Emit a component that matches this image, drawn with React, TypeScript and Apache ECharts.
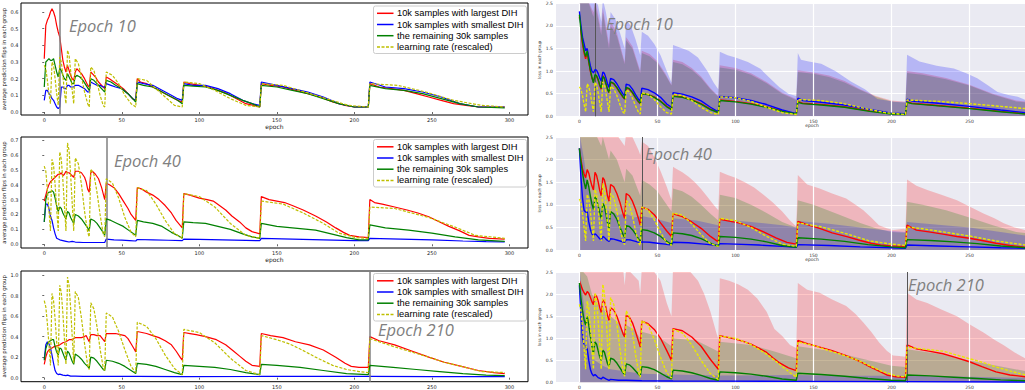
import { useEffect, useRef } from 'react';
import * as echarts from 'echarts';

type Pt = [number, number];

// ---- axis ticks and labels ----
const EPOCH_TICKS = [0, 50, 100, 150, 200, 250, 300];
const FLIP_TICKS_10 = [0, 0.1, 0.2, 0.3, 0.4, 0.5, 0.6];
const FLIP_TICKS_40 = [0, 0.1, 0.2, 0.3, 0.4, 0.5, 0.6, 0.7];
const FLIP_TICKS_210 = [0, 0.2, 0.4, 0.6, 0.8, 1.0];
const LEGEND_LABELS = [
  '10k samples with largest DIH',
  '10k samples with smallest DIH',
  'the remaining 30k samples',
  'learning rate (rescaled)',
];
const MARK_EPOCHS = [10, 40, 210];
const MARK_TEXTS = ['Epoch 10', 'Epoch 40', 'Epoch 210'];

// ---- average prediction flips, groups chosen at epoch 10 ----
const flips10Largest: Pt[] = [[0,0.32],[1,0.52],[2,0.55],[3,0.57],[4,0.6],[5,0.62],[6,0.6],[7,0.57],[8,0.52],[9,0.48],[10,0.45],[11,0.38],[12,0.31],[13,0.27],[14,0.24],[15,0.28],[16,0.25],[17,0.22],[18,0.2],[19,0.19],[20,0.24],[21,0.26],[22,0.25],[24,0.23],[26,0.2],[28,0.16],[29,0.15],[30,0.24],[31,0.23],[33,0.21],[35,0.18],[37,0.16],[39,0.14],[40,0.21],[42,0.2],[45,0.18],[48,0.16],[51,0.14],[54,0.11],[57,0.08],[59,0.07],[60,0.2],[62,0.18],[66,0.17],[70,0.15],[74,0.13],[78,0.11],[82,0.09],[86,0.07],[89,0.06],[90,0.18],[94,0.17],[100,0.16],[106,0.15],[112,0.13],[118,0.11],[124,0.08],[130,0.05],[135,0.04],[139,0.03],[140,0.17],[146,0.16],[154,0.15],[162,0.13],[170,0.11],[178,0.09],[186,0.06],[194,0.04],[200,0.03],[209,0.03],[210,0.17],[216,0.15],[224,0.14],[232,0.13],[240,0.11],[248,0.09],[256,0.07],[264,0.05],[272,0.04],[280,0.03],[290,0.03],[297,0.03]];
const flips10Smallest: Pt[] = [[0,0.07],[1,0.13],[2,0.13],[3,0.11],[4,0.1],[5,0.08],[6,0.07],[7,0.05],[8,0.03],[9,0.02],[10,0.03],[11,0.15],[12,0.15],[13,0.14],[14,0.14],[15,0.16],[16,0.16],[17,0.15],[18,0.15],[19,0.15],[20,0.16],[22,0.16],[24,0.15],[26,0.14],[28,0.12],[29,0.12],[30,0.18],[32,0.17],[34,0.16],[36,0.16],[38,0.15],[39,0.15],[40,0.17],[43,0.16],[46,0.15],[50,0.14],[54,0.11],[57,0.08],[59,0.07],[60,0.18],[64,0.17],[70,0.16],[76,0.13],[82,0.1],[86,0.08],[89,0.07],[90,0.17],[96,0.16],[104,0.16],[112,0.14],[120,0.11],[128,0.07],[134,0.05],[139,0.04],[140,0.18],[150,0.16],[160,0.14],[170,0.12],[180,0.09],[190,0.05],[200,0.03],[209,0.03],[210,0.18],[220,0.15],[232,0.14],[244,0.12],[256,0.09],[268,0.05],[280,0.03],[297,0.03]];
const flips10Rest: Pt[] = [[0,0.15],[1,0.3],[2,0.31],[3,0.32],[4,0.31],[5,0.31],[6,0.32],[7,0.28],[8,0.24],[9,0.21],[10,0.26],[11,0.25],[12,0.22],[13,0.2],[14,0.19],[15,0.23],[16,0.21],[17,0.19],[18,0.17],[19,0.17],[20,0.21],[21,0.22],[23,0.21],[25,0.19],[27,0.16],[29,0.13],[30,0.2],[32,0.19],[34,0.17],[36,0.15],[38,0.13],[39,0.12],[40,0.19],[43,0.18],[46,0.16],[50,0.14],[54,0.11],[57,0.08],[59,0.06],[60,0.17],[64,0.16],[70,0.15],[76,0.12],[82,0.09],[86,0.07],[89,0.05],[90,0.16],[96,0.155],[104,0.15],[112,0.13],[120,0.1],[128,0.07],[134,0.05],[139,0.03],[140,0.16],[150,0.15],[160,0.13],[170,0.11],[180,0.08],[190,0.05],[200,0.03],[209,0.03],[210,0.16],[220,0.14],[232,0.13],[244,0.11],[256,0.08],[268,0.05],[280,0.03],[297,0.025]];
const flips10Lr: Pt[] = [[0,0.28],[1,0.26],[2,0.19],[3,0.11],[4,0.05],[5,0.3],[6,0.28],[7,0.2],[8,0.11],[9,0.04],[10,0.33],[11,0.3],[12,0.22],[13,0.12],[14,0.05],[15,0.37],[16,0.34],[17,0.25],[18,0.13],[19,0.05],[20,0.32],[22,0.29],[24,0.21],[26,0.12],[28,0.05],[29,0.03],[30,0.27],[32,0.25],[34,0.18],[36,0.1],[38,0.04],[39,0.03],[40,0.24],[44,0.22],[48,0.17],[52,0.1],[56,0.05],[59,0.03],[60,0.2],[66,0.19],[72,0.14],[78,0.09],[84,0.04],[89,0.03],[90,0.18],[100,0.17],[110,0.13],[120,0.08],[130,0.04],[139,0.03],[140,0.17],[154,0.16],[168,0.12],[182,0.08],[196,0.04],[209,0.03],[210,0.17],[228,0.16],[246,0.12],[264,0.07],[282,0.04],[297,0.03]];

// ---- average prediction flips, groups chosen at epoch 40 ----
const flips40Largest: Pt[] = [[0,0.29],[1,0.33],[2,0.37],[3,0.4],[4,0.42],[5,0.43],[6,0.44],[7,0.45],[8,0.46],[9,0.47],[10,0.47],[11,0.48],[12,0.46],[13,0.47],[14,0.49],[15,0.48],[16,0.48],[17,0.47],[18,0.46],[19,0.45],[20,0.49],[21,0.49],[22,0.49],[24,0.48],[26,0.45],[27,0.42],[28,0.37],[29,0.35],[30,0.48],[31,0.49],[33,0.47],[35,0.44],[37,0.38],[39,0.3],[40,0.41],[42,0.4],[45,0.38],[48,0.34],[51,0.29],[54,0.24],[56,0.2],[59,0.16],[60,0.38],[63,0.37],[66,0.35],[70,0.33],[74,0.3],[78,0.26],[82,0.21],[85,0.16],[89,0.11],[90,0.34],[94,0.33],[100,0.31],[105,0.3],[109,0.29],[113,0.26],[117,0.23],[121,0.19],[126,0.15],[130,0.11],[134,0.085],[139,0.07],[140,0.32],[145,0.3],[150,0.29],[155,0.28],[160,0.26],[167,0.23],[175,0.19],[182,0.15],[188,0.11],[193,0.08],[197,0.06],[203,0.05],[209,0.045],[210,0.3],[213,0.28],[218,0.27],[226,0.25],[234,0.23],[241,0.21],[248,0.185],[255,0.15],[261,0.12],[268,0.09],[274,0.06],[280,0.05],[287,0.04],[297,0.035]];
const flips40Smallest: Pt[] = [[0,0.15],[1,0.27],[2,0.27],[3,0.24],[4,0.19],[5,0.16],[6,0.11],[7,0.07],[8,0.04],[9,0.035],[10,0.03],[12,0.025],[14,0.02],[16,0.015],[18,0.02],[20,0.015],[25,0.012],[30,0.012],[35,0.012],[39,0.012],[40,0.035],[45,0.03],[50,0.028],[55,0.025],[59,0.022],[60,0.032],[70,0.03],[80,0.027],[89,0.024],[90,0.035],[100,0.033],[115,0.03],[130,0.026],[139,0.024],[140,0.04],[160,0.035],[180,0.03],[200,0.025],[209,0.024],[210,0.04],[230,0.035],[250,0.03],[270,0.022],[285,0.018],[297,0.016]];
const flips40Rest: Pt[] = [[0,0.15],[1,0.3],[2,0.34],[3,0.35],[4,0.35],[5,0.36],[6,0.35],[7,0.31],[8,0.26],[9,0.22],[10,0.25],[11,0.24],[12,0.21],[13,0.19],[14,0.17],[15,0.22],[16,0.21],[17,0.18],[18,0.16],[19,0.14],[20,0.2],[22,0.19],[24,0.17],[26,0.14],[28,0.11],[29,0.09],[30,0.17],[32,0.16],[34,0.14],[36,0.11],[38,0.08],[39,0.06],[40,0.17],[43,0.16],[47,0.14],[51,0.12],[55,0.09],[59,0.06],[60,0.16],[64,0.15],[70,0.14],[76,0.12],[82,0.08],[86,0.06],[89,0.04],[90,0.15],[96,0.145],[104,0.14],[112,0.12],[120,0.1],[128,0.07],[134,0.05],[139,0.04],[140,0.14],[150,0.12],[160,0.11],[175,0.095],[185,0.07],[195,0.045],[203,0.03],[209,0.03],[210,0.13],[220,0.11],[235,0.095],[250,0.075],[265,0.05],[280,0.03],[297,0.02]];
const flips40Lr: Pt[] = [[0,0.525],[1,0.49],[2,0.37],[3,0.23],[4,0.09],[5,0.57],[6,0.53],[7,0.4],[8,0.24],[9,0.09],[10,0.62],[11,0.57],[12,0.43],[13,0.26],[14,0.09],[15,0.68],[16,0.63],[17,0.47],[18,0.28],[19,0.09],[20,0.58],[22,0.54],[24,0.4],[26,0.22],[28,0.08],[29,0.05],[30,0.505],[32,0.47],[34,0.35],[36,0.2],[38,0.07],[39,0.05],[40,0.44],[44,0.41],[48,0.31],[52,0.18],[56,0.08],[59,0.05],[60,0.38],[66,0.36],[72,0.27],[78,0.16],[84,0.07],[89,0.04],[90,0.34],[100,0.32],[110,0.25],[120,0.14],[130,0.06],[139,0.04],[140,0.29],[154,0.27],[167,0.21],[180,0.14],[190,0.075],[201,0.045],[209,0.04],[210,0.25],[226,0.24],[248,0.18],[265,0.115],[278,0.06],[297,0.04]];

// ---- average prediction flips, groups chosen at epoch 210 ----
const flips210Largest: Pt[] = [[0,0.13],[1,0.2],[2,0.25],[3,0.27],[4,0.28],[5,0.29],[6,0.3],[8,0.31],[10,0.32],[12,0.34],[14,0.35],[16,0.37],[18,0.37],[20,0.39],[22,0.39],[24,0.39],[26,0.4],[27,0.41],[28,0.38],[29,0.35],[30,0.42],[32,0.42],[34,0.41],[36,0.41],[38,0.37],[39,0.35],[40,0.43],[43,0.43],[46,0.43],[49,0.42],[52,0.41],[54,0.38],[56,0.33],[58,0.28],[59,0.25],[60,0.45],[63,0.44],[66,0.43],[70,0.41],[74,0.39],[78,0.36],[82,0.32],[85,0.26],[88,0.19],[89,0.17],[90,0.44],[94,0.43],[98,0.42],[104,0.4],[111,0.37],[117,0.32],[122,0.26],[126,0.21],[130,0.16],[134,0.12],[139,0.11],[140,0.43],[146,0.41],[154,0.39],[162,0.35],[171,0.32],[180,0.27],[188,0.2],[194,0.14],[198,0.11],[203,0.1],[209,0.1],[210,0.4],[216,0.36],[226,0.32],[237,0.26],[248,0.2],[258,0.15],[269,0.11],[280,0.07],[290,0.05],[297,0.04]];
const flips210Smallest: Pt[] = [[0,0.18],[1,0.32],[2,0.35],[3,0.33],[4,0.29],[5,0.22],[6,0.14],[7,0.07],[8,0.04],[9,0.03],[10,0.035],[12,0.025],[14,0.02],[15,0.025],[17,0.015],[20,0.015],[25,0.012],[30,0.012],[40,0.012],[60,0.012],[90,0.01],[140,0.012],[210,0.012],[250,0.01],[297,0.01]];
const flips210Rest: Pt[] = [[0,0.17],[1,0.28],[2,0.33],[3,0.35],[4,0.36],[5,0.37],[6,0.37],[7,0.3],[8,0.25],[9,0.22],[10,0.29],[11,0.28],[12,0.24],[13,0.2],[14,0.17],[15,0.26],[16,0.24],[17,0.2],[18,0.16],[19,0.13],[20,0.23],[22,0.21],[24,0.18],[26,0.14],[28,0.11],[29,0.09],[30,0.2],[32,0.19],[34,0.16],[36,0.12],[38,0.08],[39,0.07],[40,0.17],[44,0.16],[48,0.14],[52,0.11],[56,0.07],[59,0.04],[60,0.14],[66,0.13],[72,0.11],[78,0.08],[84,0.05],[89,0.03],[90,0.12],[100,0.11],[110,0.1],[120,0.08],[130,0.05],[139,0.03],[140,0.13],[150,0.12],[165,0.1],[180,0.07],[195,0.04],[209,0.03],[210,0.12],[225,0.1],[240,0.08],[255,0.06],[270,0.04],[285,0.025],[297,0.02]];
const flips210Lr: Pt[] = [[0,0.75],[1,0.69],[2,0.53],[3,0.33],[4,0.12],[5,0.82],[6,0.75],[7,0.57],[8,0.35],[9,0.12],[10,0.9],[11,0.83],[12,0.63],[13,0.38],[14,0.13],[15,0.98],[16,0.9],[17,0.68],[18,0.41],[19,0.14],[20,0.84],[22,0.78],[24,0.58],[26,0.33],[28,0.12],[29,0.08],[30,0.73],[32,0.67],[34,0.5],[36,0.28],[38,0.1],[39,0.07],[40,0.63],[44,0.59],[48,0.45],[52,0.27],[56,0.11],[59,0.05],[60,0.54],[66,0.5],[72,0.38],[78,0.22],[84,0.09],[89,0.03],[90,0.47],[100,0.44],[110,0.34],[120,0.19],[130,0.07],[139,0.03],[140,0.41],[150,0.37],[158,0.33],[165,0.28],[175,0.2],[186,0.12],[195,0.08],[203,0.06],[209,0.05],[210,0.38],[218,0.34],[226,0.3],[237,0.25],[248,0.2],[258,0.15],[269,0.11],[282,0.06],[297,0.05]];

// ---- loss per group, groups chosen at epoch 10 ----
const loss10Largest: Pt[] = [[0,2.2],[1,1.85],[2,1.6],[3,1.4],[4,1.27],[5,1.42],[6,1.2],[7,1.0],[8,0.85],[9,0.76],[10,0.9],[11,0.88],[12,0.8],[13,0.68],[14,0.6],[15,0.9],[16,0.85],[17,0.72],[18,0.6],[19,0.52],[20,0.75],[22,0.72],[24,0.63],[26,0.52],[28,0.42],[29,0.38],[30,0.62],[32,0.6],[34,0.52],[36,0.41],[38,0.31],[39,0.28],[40,0.5],[44,0.48],[48,0.43],[52,0.34],[56,0.22],[59,0.16],[60,0.45],[66,0.43],[72,0.37],[78,0.28],[84,0.16],[89,0.09],[90,0.36],[100,0.33],[110,0.28],[120,0.21],[130,0.12],[139,0.05],[140,0.33],[143,0.29],[155,0.26],[170,0.21],[186,0.12],[200,0.06],[209,0.05],[210,0.32],[213,0.29],[230,0.24],[250,0.18],[270,0.11],[286,0.06],[297,0.04]];
const loss10Smallest: Pt[] = [[0,2.32],[1,2.0],[2,1.75],[3,1.6],[4,1.45],[5,1.5],[6,1.3],[7,1.12],[8,1.0],[9,0.96],[10,1.03],[11,1.02],[12,0.95],[13,0.85],[14,0.78],[15,0.98],[16,0.95],[17,0.85],[18,0.72],[19,0.64],[20,0.84],[22,0.81],[24,0.72],[26,0.6],[28,0.49],[29,0.45],[30,0.71],[32,0.69],[34,0.6],[36,0.48],[38,0.37],[39,0.34],[40,0.62],[44,0.59],[48,0.52],[52,0.42],[56,0.27],[59,0.2],[60,0.52],[66,0.49],[72,0.43],[78,0.34],[84,0.2],[89,0.1],[90,0.44],[100,0.41],[110,0.35],[120,0.26],[130,0.14],[139,0.06],[140,0.4],[143,0.35],[155,0.31],[170,0.25],[186,0.15],[200,0.07],[209,0.06],[210,0.38],[213,0.34],[230,0.29],[250,0.22],[270,0.14],[286,0.08],[297,0.06]];
const loss10Rest: Pt[] = [[0,2.25],[1,1.9],[2,1.65],[3,1.45],[4,1.32],[5,1.45],[6,1.22],[7,1.02],[8,0.87],[9,0.74],[10,0.92],[11,0.9],[12,0.82],[13,0.7],[14,0.62],[15,0.88],[16,0.84],[17,0.72],[18,0.6],[19,0.53],[20,0.76],[22,0.73],[24,0.64],[26,0.53],[28,0.43],[29,0.39],[30,0.64],[32,0.61],[34,0.53],[36,0.42],[38,0.32],[39,0.29],[40,0.5],[44,0.48],[48,0.42],[52,0.33],[56,0.21],[59,0.15],[60,0.44],[66,0.42],[72,0.36],[78,0.27],[84,0.15],[89,0.08],[90,0.35],[100,0.32],[110,0.27],[120,0.2],[130,0.11],[139,0.05],[140,0.31],[143,0.28],[155,0.25],[170,0.2],[186,0.11],[200,0.05],[209,0.04],[210,0.31],[213,0.28],[230,0.23],[250,0.17],[270,0.1],[286,0.05],[297,0.04]];
const loss10Lr: Pt[] = [[0,0.65],[1,0.6],[2,0.45],[3,0.27],[4,0.1],[5,0.72],[6,0.66],[7,0.5],[8,0.3],[9,0.1],[10,0.75],[11,0.69],[12,0.52],[13,0.3],[14,0.1],[15,0.76],[16,0.7],[17,0.52],[18,0.31],[19,0.1],[20,0.66],[22,0.61],[24,0.46],[26,0.26],[28,0.09],[29,0.06],[30,0.58],[32,0.54],[34,0.4],[36,0.23],[38,0.08],[39,0.05],[40,0.52],[44,0.49],[48,0.37],[52,0.21],[56,0.08],[59,0.05],[60,0.49],[66,0.46],[72,0.35],[78,0.2],[84,0.08],[89,0.04],[90,0.43],[100,0.41],[110,0.33],[120,0.2],[130,0.08],[139,0.04],[140,0.37],[154,0.35],[168,0.29],[182,0.18],[196,0.08],[209,0.04],[210,0.36],[230,0.33],[250,0.28],[270,0.22],[286,0.17],[297,0.14]];
const loss10LargestBand: Pt[] = [[0,2.6],[4,2.6],[5,2.6],[9,2.3],[10,2.6],[14,1.9],[15,2.4],[19,1.6],[20,2.1],[24,1.85],[29,1.2],[30,1.75],[34,1.55],[39,1.0],[40,1.45],[45,1.38],[50,1.22],[55,0.95],[59,0.7],[60,1.25],[66,1.2],[72,1.07],[78,0.88],[84,0.62],[89,0.45],[90,1.13],[100,1.07],[110,0.95],[120,0.76],[130,0.52],[139,0.38],[140,1.02],[150,0.97],[160,0.9],[170,0.78],[180,0.6],[190,0.45],[200,0.35],[209,0.32],[210,1.0],[220,0.95],[235,0.85],[250,0.7],[265,0.5],[280,0.35],[297,0.28]];
const loss10SmallestBand: Pt[] = [[0,2.6],[10,2.6],[12,2.45],[14,2.1],[15,2.6],[17,2.3],[19,1.9],[20,2.31],[23,2.15],[26,1.85],[29,1.5],[30,2.13],[33,2.0],[36,1.7],[39,1.35],[40,1.87],[44,1.78],[48,1.6],[52,1.35],[56,1.0],[59,0.75],[60,1.58],[64,1.53],[70,1.45],[76,1.3],[82,1.0],[86,0.75],[89,0.6],[90,1.43],[95,1.35],[100,1.3],[108,1.2],[116,1.05],[122,0.85],[128,0.65],[134,0.5],[139,0.45],[140,1.4],[142,1.25],[147,1.21],[155,1.16],[164,1.0],[174,0.77],[183,0.6],[191,0.38],[202,0.32],[209,0.32],[210,1.36],[218,1.21],[229,1.12],[240,1.06],[248,0.95],[255,0.84],[262,0.68],[268,0.54],[275,0.47],[281,0.43],[286,0.36],[297,0.34]];
const loss10RestBand: Pt[] = [[0,2.6],[4,2.55],[5,2.6],[9,2.2],[10,2.5],[14,1.8],[15,2.3],[19,1.5],[20,2.0],[24,1.78],[29,1.15],[30,1.68],[34,1.5],[39,0.95],[40,1.4],[45,1.33],[50,1.18],[55,0.92],[59,0.68],[60,1.2],[66,1.15],[72,1.03],[78,0.85],[84,0.6],[89,0.43],[90,1.08],[100,1.03],[110,0.92],[120,0.73],[130,0.5],[139,0.36],[140,0.98],[150,0.94],[160,0.87],[170,0.75],[180,0.58],[190,0.43],[200,0.33],[209,0.3],[210,0.96],[220,0.92],[235,0.82],[250,0.68],[265,0.48],[280,0.33],[297,0.27]];

// ---- loss per group, groups chosen at epoch 40 ----
const loss40Largest: Pt[] = [[0,2.25],[1,2.0],[2,1.8],[3,1.68],[4,1.6],[5,1.78],[6,1.7],[7,1.55],[8,1.42],[9,1.33],[10,1.72],[11,1.65],[12,1.5],[13,1.32],[14,1.2],[15,1.6],[16,1.55],[17,1.4],[18,1.2],[19,1.08],[20,1.45],[22,1.4],[24,1.25],[26,1.05],[28,0.8],[29,0.7],[30,1.25],[32,1.2],[34,1.08],[36,0.9],[38,0.68],[39,0.55],[40,0.95],[44,0.9],[48,0.78],[52,0.6],[56,0.42],[59,0.3],[60,0.8],[66,0.74],[72,0.62],[78,0.48],[84,0.3],[89,0.18],[90,0.68],[96,0.64],[102,0.6],[110,0.52],[118,0.4],[126,0.27],[133,0.17],[139,0.13],[140,0.63],[147,0.55],[154,0.48],[162,0.38],[172,0.29],[180,0.21],[187,0.15],[193,0.11],[200,0.09],[209,0.08],[210,0.55],[216,0.44],[224,0.4],[233,0.35],[242,0.3],[250,0.26],[258,0.21],[267,0.15],[276,0.1],[286,0.06],[297,0.05]];
const loss40Smallest: Pt[] = [[0,2.25],[1,1.6],[2,1.15],[3,0.88],[4,0.84],[5,0.85],[6,0.62],[7,0.46],[8,0.36],[9,0.3],[10,0.36],[11,0.33],[12,0.29],[13,0.25],[14,0.22],[15,0.3],[16,0.28],[17,0.24],[18,0.21],[19,0.19],[20,0.25],[22,0.24],[25,0.21],[29,0.17],[30,0.23],[33,0.22],[36,0.19],[39,0.16],[40,0.18],[45,0.17],[50,0.15],[55,0.13],[59,0.11],[60,0.17],[70,0.16],[80,0.13],[89,0.1],[90,0.14],[100,0.13],[115,0.11],[130,0.08],[139,0.06],[140,0.12],[160,0.1],[180,0.07],[200,0.05],[209,0.04],[210,0.11],[230,0.09],[250,0.07],[270,0.05],[297,0.03]];
const loss40Rest: Pt[] = [[0,2.25],[1,1.95],[2,1.7],[3,1.5],[4,1.35],[5,1.55],[6,1.4],[7,1.2],[8,1.02],[9,0.9],[10,1.18],[11,1.12],[12,0.98],[13,0.82],[14,0.7],[15,1.03],[16,0.97],[17,0.8],[18,0.6],[19,0.48],[20,0.85],[22,0.8],[24,0.68],[26,0.5],[28,0.34],[29,0.28],[30,0.54],[32,0.52],[34,0.45],[36,0.35],[38,0.24],[39,0.2],[40,0.45],[44,0.43],[48,0.38],[52,0.3],[56,0.19],[59,0.12],[60,0.38],[66,0.36],[72,0.32],[78,0.25],[84,0.15],[89,0.08],[90,0.3],[100,0.28],[110,0.24],[120,0.18],[130,0.1],[139,0.06],[140,0.27],[155,0.24],[170,0.19],[185,0.12],[200,0.07],[209,0.05],[210,0.23],[225,0.21],[240,0.18],[255,0.14],[270,0.09],[286,0.05],[297,0.04]];
const loss40Lr: Pt[] = [[0,1.13],[1,1.05],[2,0.8],[3,0.5],[4,0.2],[5,1.23],[6,1.13],[7,0.86],[8,0.52],[9,0.2],[10,1.34],[11,1.23],[12,0.93],[13,0.56],[14,0.2],[15,1.47],[16,1.35],[17,1.02],[18,0.6],[19,0.2],[20,1.25],[22,1.16],[24,0.86],[26,0.48],[28,0.17],[29,0.12],[30,1.09],[32,1.01],[34,0.75],[36,0.42],[38,0.15],[39,0.1],[40,0.95],[44,0.89],[48,0.67],[52,0.39],[56,0.16],[59,0.1],[60,0.82],[66,0.77],[72,0.58],[78,0.34],[84,0.14],[89,0.08],[90,0.7],[100,0.65],[110,0.5],[120,0.3],[130,0.13],[139,0.08],[140,0.6],[154,0.52],[165,0.42],[172,0.35],[186,0.2],[200,0.13],[209,0.1],[210,0.51],[220,0.47],[233,0.4],[250,0.31],[267,0.2],[286,0.11],[297,0.09]];
const loss40LargestBand: Pt[] = [[0,2.6],[20,2.6],[24,2.55],[28,2.35],[29,2.3],[30,2.6],[34,2.5],[38,2.2],[39,2.1],[40,2.4],[44,2.3],[48,2.05],[52,1.75],[56,1.4],[59,1.1],[60,1.84],[62,1.8],[66,1.72],[70,1.62],[74,1.5],[78,1.35],[82,1.18],[86,1.0],[89,0.88],[90,1.73],[95,1.66],[100,1.6],[106,1.5],[112,1.38],[118,1.22],[124,1.05],[130,0.85],[135,0.65],[139,0.52],[140,1.66],[146,1.45],[154,1.36],[162,1.25],[171,1.14],[177,1.0],[182,0.88],[187,0.72],[192,0.55],[197,0.48],[201,0.44],[208,0.47],[209,0.45],[210,1.56],[216,1.42],[223,1.33],[232,1.22],[242,1.1],[250,0.96],[259,0.81],[266,0.7],[272,0.59],[279,0.5],[286,0.44],[297,0.4]];
const loss40SmallestBand: Pt[] = [[0,2.6],[3,2.0],[5,1.5],[8,1.1],[10,1.0],[15,0.9],[20,0.85],[25,0.78],[30,0.8],[35,0.72],[40,0.75],[50,0.68],[59,0.6],[60,0.7],[75,0.65],[89,0.55],[90,0.68],[110,0.62],[130,0.55],[139,0.5],[140,0.64],[160,0.58],[180,0.5],[200,0.42],[209,0.4],[210,0.62],[230,0.56],[250,0.5],[270,0.4],[286,0.32],[297,0.3]];
const loss40RestBand: Pt[] = [[0,2.6],[10,2.6],[14,2.3],[15,2.5],[19,2.0],[20,2.2],[24,2.0],[29,1.5],[30,1.8],[34,1.65],[39,1.2],[40,1.55],[45,1.45],[50,1.3],[55,1.05],[59,0.85],[60,1.36],[66,1.3],[72,1.18],[78,1.0],[84,0.8],[89,0.65],[90,1.22],[100,1.15],[110,1.0],[120,0.82],[130,0.62],[139,0.5],[140,1.1],[150,1.0],[165,0.8],[180,0.6],[190,0.48],[200,0.4],[209,0.38],[210,1.07],[220,1.0],[235,0.88],[250,0.72],[265,0.55],[280,0.4],[297,0.32]];

// ---- loss per group, groups chosen at epoch 210 ----
const loss210Largest: Pt[] = [[0,2.3],[1,2.2],[2,2.1],[3,2.03],[4,1.98],[5,2.06],[6,2.02],[7,1.93],[8,1.83],[9,1.76],[10,1.99],[11,1.95],[12,1.85],[13,1.7],[14,1.58],[15,1.87],[16,1.83],[17,1.7],[18,1.52],[19,1.4],[20,1.69],[22,1.64],[24,1.5],[26,1.3],[28,1.1],[29,1.03],[30,1.52],[32,1.48],[34,1.35],[36,1.15],[38,0.92],[39,0.8],[40,1.39],[44,1.33],[48,1.2],[52,1.0],[56,0.72],[59,0.5],[60,1.22],[66,1.17],[72,1.03],[78,0.82],[84,0.52],[89,0.3],[90,1.06],[95,1.02],[100,0.98],[105,0.93],[110,0.87],[115,0.78],[120,0.68],[124,0.56],[128,0.45],[134,0.33],[139,0.27],[140,0.95],[147,0.87],[154,0.8],[162,0.72],[171,0.61],[180,0.47],[186,0.36],[192,0.26],[197,0.17],[203,0.13],[209,0.12],[210,0.85],[216,0.76],[224,0.71],[233,0.65],[241,0.57],[250,0.47],[258,0.36],[267,0.24],[276,0.17],[286,0.13],[297,0.11]];
const loss210Smallest: Pt[] = [[0,2.2],[1,1.5],[2,1.0],[3,0.85],[4,0.8],[5,0.76],[6,0.5],[7,0.3],[8,0.2],[9,0.15],[10,0.18],[11,0.15],[12,0.11],[14,0.08],[15,0.12],[17,0.08],[19,0.05],[20,0.07],[25,0.05],[30,0.05],[40,0.04],[60,0.035],[90,0.03],[140,0.025],[210,0.02],[297,0.01]];
const loss210Rest: Pt[] = [[0,2.25],[1,1.9],[2,1.62],[3,1.42],[4,1.3],[5,1.5],[6,1.3],[7,1.05],[8,0.82],[9,0.65],[10,0.92],[11,0.87],[12,0.72],[13,0.58],[14,0.5],[15,0.73],[16,0.69],[17,0.56],[18,0.43],[19,0.36],[20,0.55],[22,0.52],[24,0.44],[26,0.33],[28,0.22],[29,0.18],[30,0.42],[32,0.4],[34,0.34],[36,0.26],[38,0.18],[39,0.15],[40,0.36],[44,0.34],[48,0.29],[52,0.21],[56,0.13],[59,0.08],[60,0.28],[66,0.26],[72,0.22],[78,0.16],[84,0.09],[89,0.05],[90,0.24],[100,0.22],[110,0.19],[120,0.14],[130,0.08],[139,0.05],[140,0.21],[155,0.18],[170,0.14],[185,0.09],[200,0.05],[209,0.04],[210,0.17],[225,0.15],[240,0.12],[255,0.09],[270,0.06],[286,0.04],[297,0.03]];
const loss210Lr: Pt[] = [[0,1.77],[1,1.62],[2,1.25],[3,0.78],[4,0.3],[5,1.84],[6,1.68],[7,1.28],[8,0.8],[9,0.3],[10,2.03],[11,1.86],[12,1.42],[13,0.87],[14,0.3],[15,2.22],[16,2.03],[17,1.55],[18,0.93],[19,0.3],[20,1.92],[22,1.77],[24,1.33],[26,0.75],[28,0.25],[29,0.14],[30,1.62],[32,1.5],[34,1.12],[36,0.63],[38,0.22],[39,0.12],[40,1.4],[44,1.3],[48,0.98],[52,0.57],[56,0.22],[59,0.1],[60,1.2],[66,1.12],[72,0.85],[78,0.5],[84,0.2],[89,0.07],[90,1.05],[100,1.0],[110,0.86],[120,0.64],[128,0.42],[134,0.25],[139,0.12],[140,0.92],[150,0.84],[160,0.72],[171,0.6],[180,0.48],[186,0.38],[194,0.25],[203,0.15],[209,0.13],[210,0.8],[220,0.76],[233,0.71],[242,0.62],[250,0.54],[260,0.44],[267,0.35],[277,0.25],[286,0.17],[297,0.14]];
const loss210LargestBand: Pt[] = [[0,2.6],[28,2.6],[29,2.2],[30,2.6],[38,2.3],[39,2.0],[40,2.6],[48,2.5],[52,2.3],[56,1.8],[59,1.5],[60,2.6],[70,2.55],[76,2.3],[80,2.0],[84,1.6],[88,1.1],[89,0.99],[90,2.36],[96,2.3],[102,2.22],[108,2.1],[114,1.9],[120,1.6],[125,1.21],[130,1.05],[135,0.85],[139,0.78],[140,2.25],[146,2.1],[154,2.03],[162,1.88],[171,1.73],[177,1.55],[182,1.36],[187,1.15],[192,0.91],[197,0.72],[201,0.61],[205,0.6],[209,0.58],[210,2.03],[216,1.88],[223,1.8],[232,1.65],[242,1.5],[250,1.32],[259,1.13],[266,0.97],[272,0.84],[279,0.68],[286,0.54],[297,0.48]];
const loss210SmallestBand: Pt[] = [[0,2.6],[2,2.0],[4,1.4],[6,0.9],[8,0.6],[10,0.5],[15,0.38],[20,0.3],[30,0.25],[40,0.2],[60,0.18],[90,0.16],[140,0.17],[170,0.15],[210,0.15],[250,0.13],[297,0.1]];
const loss210RestBand: Pt[] = [[0,2.6],[5,2.4],[8,2.0],[10,1.9],[14,1.6],[15,1.75],[19,1.35],[20,1.5],[25,1.35],[29,1.1],[30,1.3],[35,1.2],[39,1.0],[40,1.15],[50,1.05],[59,0.82],[60,1.0],[75,0.95],[89,0.7],[90,0.92],[110,0.85],[125,0.7],[139,0.55],[140,0.82],[160,0.72],[180,0.55],[200,0.38],[209,0.35],[210,0.75],[230,0.65],[250,0.5],[270,0.36],[286,0.26],[297,0.24]];

// ---- layout ----
const LEFT_COLORS = ['#ff0000', '#0000ff', '#008000', '#bfbf00'];
const RIGHT_COLORS = ['#ff0000', '#0000ff', '#008000', '#e8e800'];
const TICK_FONT = 'DejaVu Sans';
// the loss plots run past the right edge of the figure; only up to this epoch is shown
const LOSS_X_MAX = 285.6;

const flipPanels = [
  { top: 3, height: 112, yMin: -0.018, yMax: 0.654, ticks: FLIP_TICKS_10, lines: [flips10Largest, flips10Smallest, flips10Rest, flips10Lr], textX: 69, textY: 25, legendTop: 6, xTitle: true },
  { top: 137, height: 111, yMin: -0.025, yMax: 0.72, ticks: FLIP_TICKS_40, lines: [flips40Largest, flips40Smallest, flips40Rest, flips40Lr], textX: 114, textY: 160, legendTop: 139.5, xTitle: true },
  { top: 271, height: 110.7, yMin: -0.039, yMax: 1.039, ticks: FLIP_TICKS_210, lines: [flips210Largest, flips210Smallest, flips210Rest, flips210Lr], textX: 378, textY: 329, legendTop: 273.5, xTitle: false },
];
const lossPanels = [
  { top: 3.3, height: 113, lines: [loss10Largest, loss10Smallest, loss10Rest, loss10Lr], bands: [loss10LargestBand, loss10SmallestBand, loss10RestBand], textX: 606, textY: 23, xTitle: true },
  { top: 137, height: 113, lines: [loss40Largest, loss40Smallest, loss40Rest, loss40Lr], bands: [loss40LargestBand, loss40SmallestBand, loss40RestBand], textX: 645, textY: 153, xTitle: true },
  { top: 272, height: 112.3, lines: [loss210Largest, loss210Smallest, loss210Rest, loss210Lr], bands: [loss210LargestBand, loss210SmallestBand, loss210RestBand], textX: 908, textY: 284, xTitle: false },
];

function buildOption(): echarts.EChartsOption {
  const grid: any[] = [];
  const xAxis: any[] = [];
  const yAxis: any[] = [];
  const series: any[] = [];
  const graphic: any[] = [];

  const fmt = (v: number) => v.toFixed(1);

  flipPanels.forEach((p, i) => {
    grid.push({ left: 21, top: p.top, width: 507, height: p.height, show: true, borderColor: '#000', borderWidth: 1, backgroundColor: '#fff' });
    xAxis.push({
      gridIndex: i, type: 'value', min: -15, max: 312,
      axisLine: { show: false }, splitLine: { show: false },
      axisTick: { show: true, length: 2, customValues: EPOCH_TICKS, lineStyle: { color: '#000', width: 0.6 } },
      axisLabel: { customValues: EPOCH_TICKS, fontSize: 5, color: '#222', margin: 2.5, fontFamily: TICK_FONT },
      name: p.xTitle ? 'epoch' : '', nameLocation: 'middle', nameGap: 8,
      nameTextStyle: { fontSize: 6, color: '#222', fontFamily: TICK_FONT },
    });
    yAxis.push({
      gridIndex: i, type: 'value', min: p.yMin, max: p.yMax,
      axisLine: { show: false }, splitLine: { show: false },
      axisTick: { show: true, length: 2, customValues: p.ticks, lineStyle: { color: '#000', width: 0.6 } },
      axisLabel: { customValues: p.ticks, formatter: fmt, fontSize: 5, color: '#222', margin: 2.5, fontFamily: TICK_FONT },
      name: 'average prediction flips in each group', nameLocation: 'middle', nameGap: 12,
      nameTextStyle: { fontSize: 5.4, color: '#222', fontFamily: TICK_FONT },
    });
    p.lines.forEach((d, k) => {
      series.push({
        type: 'line', name: LEGEND_LABELS[k], xAxisIndex: i, yAxisIndex: i, data: d,
        symbol: 'none', silent: true, z: 3 + k,
        lineStyle: { color: LEFT_COLORS[k], width: 1.2, type: k === 3 ? [3, 1.5] : 'solid' },
        itemStyle: { color: LEFT_COLORS[k] },
      });
    });
    series.push({
      type: 'line', xAxisIndex: i, yAxisIndex: i, data: [], silent: true, z: 8,
      markLine: {
        silent: true, symbol: ['none', 'none'], label: { show: false },
        lineStyle: { color: '#808080', width: 1.5, type: 'solid' },
        data: [{ xAxis: MARK_EPOCHS[i] }],
      },
    });
    graphic.push({
      type: 'text', z: 100, x: p.textX, y: p.textY,
      style: { text: MARK_TEXTS[i], fill: '#808080', font: 'italic 16.5px "Open Sans"', textVerticalAlign: 'middle', verticalAlign: 'middle' },
    });
    // legend box
    const lx = 373.5, lw = 153, lh = 47.5;
    graphic.push({
      type: 'rect', z: 100,
      shape: { x: lx, y: p.legendTop, width: lw, height: lh, r: 2 },
      style: { fill: 'rgba(255,255,255,0.85)', stroke: '#cccccc', lineWidth: 1 },
    });
    LEGEND_LABELS.forEach((lab, k) => {
      const yy = p.legendTop + 7.3 + k * 11.2;
      graphic.push({
        type: 'line', z: 101,
        shape: { x1: lx + 3.5, y1: yy, x2: lx + 20, y2: yy },
        style: { stroke: LEFT_COLORS[k], lineWidth: 1.5, lineDash: k === 3 ? [3, 1.5] : null },
      });
      graphic.push({
        type: 'text', z: 101, x: lx + 23.5, y: yy,
        style: { text: lab, fill: '#000', font: '9.3px "Liberation Sans"', textVerticalAlign: 'middle', verticalAlign: 'middle' },
      });
    });
  });

  lossPanels.forEach((p, j) => {
    const i = j + 3;
    grid.push({ left: 556, top: p.top, width: 469, height: p.height, show: true, borderWidth: 0, backgroundColor: '#eaeaf2' });
    xAxis.push({
      gridIndex: i, type: 'value', min: -15, max: LOSS_X_MAX,
      axisLine: { show: false }, axisTick: { show: false }, splitLine: { show: false },
      axisLabel: { customValues: EPOCH_TICKS.filter((v) => v <= LOSS_X_MAX), fontSize: 4.5, color: '#333', margin: 2.5, fontFamily: TICK_FONT },
    });
    yAxis.push({
      gridIndex: i, type: 'value', min: 0, max: 2.5, interval: 0.5,
      axisLine: { show: false }, axisTick: { show: false },
      splitLine: { show: true, lineStyle: { color: '#ffffff', width: 1.2 } },
      axisLabel: { formatter: fmt, fontSize: 4.5, color: '#333', margin: 3, fontFamily: TICK_FONT },
      name: 'loss in each group', nameLocation: 'middle', nameGap: 11,
      nameTextStyle: { fontSize: 4.2, color: '#333', fontFamily: TICK_FONT },
    });
    // vertical grid lines at the epoch ticks
    series.push({
      type: 'line', xAxisIndex: i, yAxisIndex: i, data: [], silent: true, z: 1,
      markLine: {
        silent: true, symbol: ['none', 'none'], label: { show: false },
        lineStyle: { color: '#ffffff', width: 1.2, type: 'solid' },
        data: EPOCH_TICKS.filter((v) => v <= LOSS_X_MAX).map((v) => ({ xAxis: v })),
      },
    });
    // shaded spread of each group
    [0, 2, 1].forEach((k) => {
      series.push({
        type: 'line', xAxisIndex: i, yAxisIndex: i, data: p.bands[k],
        symbol: 'none', silent: true, z: 2,
        lineStyle: { width: 0 },
        areaStyle: { color: RIGHT_COLORS[k], opacity: 0.22, origin: 'start' },
      });
    });
    [0, 2, 1, 3].forEach((k) => {
      series.push({
        type: 'line', name: LEGEND_LABELS[k], xAxisIndex: i, yAxisIndex: i, data: p.lines[k],
        symbol: 'none', silent: true, z: 4 + k,
        lineStyle: { color: RIGHT_COLORS[k], width: 1.4, type: k === 3 ? [3, 1.5] : 'solid' },
        itemStyle: { color: RIGHT_COLORS[k] },
      });
    });
    series.push({
      type: 'line', xAxisIndex: i, yAxisIndex: i, data: [], silent: true, z: 9,
      markLine: {
        silent: true, symbol: ['none', 'none'], label: { show: false },
        lineStyle: { color: '#555555', width: 1, type: 'solid' },
        data: [{ xAxis: MARK_EPOCHS[j] }],
      },
    });
    graphic.push({
      type: 'text', z: 100, x: p.textX, y: p.textY,
      style: { text: MARK_TEXTS[j], fill: '#808080', font: 'italic 16.5px "Open Sans"', textVerticalAlign: 'middle', verticalAlign: 'middle' },
    });
    if (p.xTitle) {
      // x-axis title, centred under the full (uncropped) plot width
      graphic.push({
        type: 'text', z: 100, x: 812, y: p.top + p.height + 9,
        style: { text: 'epoch', fill: '#333', font: `4.5px "${TICK_FONT}"`, textAlign: 'center', align: 'center', textVerticalAlign: 'middle', verticalAlign: 'middle' },
      });
    }
  });

  return { animation: false, grid, xAxis, yAxis, series, graphic };
}

export default function App() {
  const ref = useRef<HTMLDivElement>(null);
  useEffect(() => {
    document.body.style.margin = '0';
    const chart = echarts.init(ref.current!, null, { renderer: 'svg' });
    chart.setOption(buildOption());
    return () => chart.dispose();
  }, []);
  return <div ref={ref} style={{ width: 1025, height: 390, background: '#fff' }} />;
}
